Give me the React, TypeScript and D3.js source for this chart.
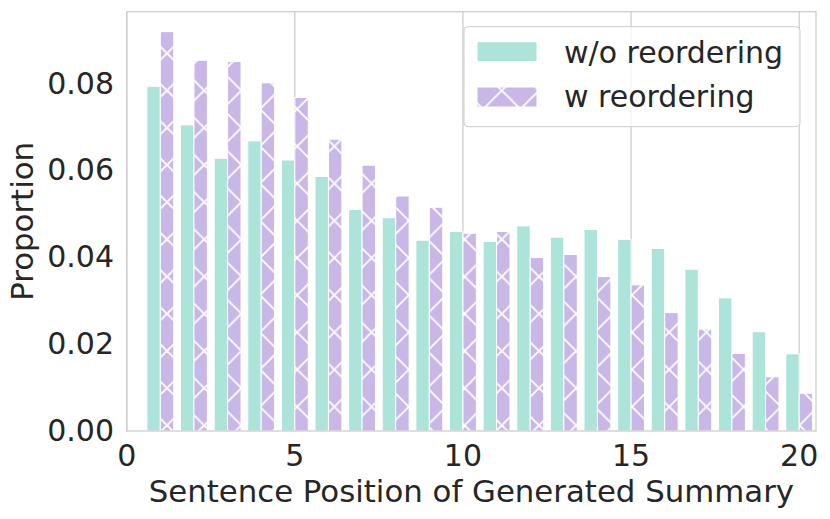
import React from "react";
import * as d3 from "d3";

const positions = [1, 2, 3, 4, 5, 6, 7, 8, 9, 10, 11, 12, 13, 14, 15, 16, 17, 18, 19, 20];
const withoutReordering = [0.0795, 0.0706, 0.0629, 0.0669, 0.0625, 0.0587, 0.0511, 0.0492, 0.0440, 0.0460, 0.0437, 0.0473, 0.0447, 0.0465, 0.0442, 0.0421, 0.0373, 0.0307, 0.0229, 0.0178];
const withReordering = [0.0921, 0.0855, 0.0852, 0.0803, 0.0769, 0.0673, 0.0613, 0.0542, 0.0516, 0.0456, 0.0460, 0.0400, 0.0407, 0.0356, 0.0337, 0.0273, 0.0235, 0.0179, 0.0125, 0.0087];
const xTicks = [0, 5, 10, 15, 20];
const yTicks = [0, 0.02, 0.04, 0.06, 0.08];
const seriesNames = ["w/o reordering", "w reordering"];

const TEAL = "#ade4da";
const PURPLE = "#c9b7e7";
const TEXT = "#262626";
const GRID = "#cccccc";
const FONT = "'DejaVu Sans', sans-serif";

export default function App() {
  const left = 126.7, right = 816, top = 11.7, bottom = 431;
  const x = d3.scaleLinear().domain([0, 20.5]).range([left, right]);
  const y = d3.scaleLinear().domain([0, 0.0967]).range([bottom, top]);
  const bw = 0.4;
  const hd = 37.2;

  return (
    <svg width={830} height={519} style={{ position: "absolute", left: 0, top: 0 }} fontFamily={FONT}>
      <defs>
        <pattern id="hatchX" patternUnits="userSpaceOnUse" x={167} y={53.3} width={hd} height={hd}>
          <rect x={0} y={0} width={hd} height={hd} fill={PURPLE} />
          <line x1={-2} y1={-2} x2={hd + 2} y2={hd + 2} stroke="#fff" strokeWidth={1.8} />
          <line x1={hd + 2} y1={-2} x2={-2} y2={hd + 2} stroke="#fff" strokeWidth={1.8} />
        </pattern>
      </defs>
      <rect x={0} y={0} width={830} height={519} fill="#fff" />
      {xTicks.map((t) => (
        <line key={"g" + t} x1={x(t)} x2={x(t)} y1={top} y2={bottom} stroke={GRID} strokeWidth={1.25} />
      ))}
      {positions.map((p, i) => (
        <g key={"b" + p}>
          <rect x={x(p - bw)} y={y(withoutReordering[i])} width={x(p) - x(p - bw)} height={y(0) - y(withoutReordering[i])} fill={TEAL} stroke="#fff" strokeWidth={1} />
          <rect x={x(p)} y={y(withReordering[i])} width={x(p + bw) - x(p)} height={y(0) - y(withReordering[i])} fill="url(#hatchX)" stroke="#fff" strokeWidth={1} />
        </g>
      ))}
      <rect x={left} y={top} width={right - left} height={bottom - top} fill="none" stroke={GRID} strokeWidth={1.25} />
      {yTicks.map((t) => (
        <text key={"yt" + t} x={114} y={y(t) + 9.5} textAnchor="end" fontSize={30} fill={TEXT}>
          {d3.format(".2f")(t)}
        </text>
      ))}
      {xTicks.map((t) => (
        <text key={"xt" + t} x={x(t)} y={466} textAnchor="middle" fontSize={30} fill={TEXT}>
          {t}
        </text>
      ))}
      <text x={(left + right) / 2} y={501.5} textAnchor="middle" fontSize={30.8} fill={TEXT}>
        Sentence Position of Generated Summary
      </text>
      <text transform={`translate(33, ${(top + bottom) / 2}) rotate(-90)`} textAnchor="middle" fontSize={30.8} fill={TEXT}>
        Proportion
      </text>
      <g>
        <rect x={464} y={26.7} width={336} height={100} rx={4} fill="#fff" fillOpacity={0.8} stroke={GRID} strokeWidth={1} />
        <rect x={477} y={41.7} width={60} height={20} fill={TEAL} stroke="#fff" strokeWidth={1} />
        <rect x={477} y={87} width={60} height={20} fill="url(#hatchX)" stroke="#fff" strokeWidth={1} />
        <text x={564} y={63} fontSize={30} fill={TEXT}>{seriesNames[0]}</text>
        <text x={564} y={107} fontSize={30} fill={TEXT}>{seriesNames[1]}</text>
      </g>
    </svg>
  );
}
